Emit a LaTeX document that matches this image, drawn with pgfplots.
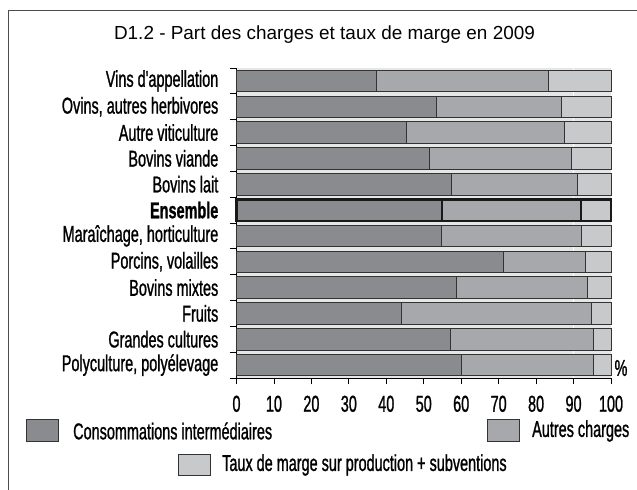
\documentclass[border=0pt]{standalone}
\usepackage{fontspec}
\setmainfont{Liberation Sans}
\newfontfamily\cond[FakeStretch=0.63, FakeBold=1]{Liberation Sans}
\usepackage{pgfplots}
\pgfplotsset{compat=1.18}
\definecolor{cdark}{HTML}{8A8B8F}
\definecolor{cmid}{HTML}{A7A8AB}
\definecolor{clight}{HTML}{C8C9CB}
\definecolor{cbg}{HTML}{E6E6E6}
\newcommand{\cf}{\cond\fontsize{23}{26}\selectfont}
\begin{document}
\begin{tikzpicture}
\path[use as bounding box] (0,0) rectangle (637bp,490bp);
\draw[black!70, line width=1.2bp] (8.5bp,0) -- (8.5bp,479.5bp) -- (637bp,479.5bp);
\node[font=\fontsize{19}{22}\selectfont] at (324.5bp,455bp) {D1.2 - Part des charges et taux de marge en 2009};
\begin{axis}[
  at={(236.5bp,112bp)}, anchor=south west,
  scale only axis, width=374.5bp, height=310bp,
  xbar, bar width=21.4bp,
  xmin=0, xmax=100, ymin=-0.5, ymax=11.5,
  axis x line*=bottom, axis y line*=left,
  axis line style={-, black, line width=0.8bp},
  axis background/.style={fill=cbg},
  tick align=outside, major tick length=6.5bp,
  tick style={black, line width=0.8bp},
  xtick={0,10,...,100},
  ytick={-0.5,0.5,1.5,2.5,3.5,4.5,5.5,6.5,7.5,8.5,9.5,10.5,11.5},
  yticklabels={},
  /pgf/number format/assume math mode=true,
  xticklabel style={font=\cf, inner sep=0pt, anchor=north, yshift=-11bp},
  extra y ticks={0,1,2,3,4,5,6,7,8,9,10,11},
  extra y tick labels={{Polyculture, polyélevage},{Grandes cultures},{Fruits},{Bovins mixtes},{Porcins, volailles},{Maraîchage, horticulture},{\bfseries Ensemble},{Bovins lait},{Bovins viande},{Autre viticulture},{Ovins, autres herbivores},{Vins d'appellation}},
  extra y tick style={major tick length=0pt, yticklabel style={font=\cf, inner sep=0pt, anchor=east, xshift=-18bp}},
  extra x ticks={90}, extra x tick labels={},
  extra x tick style={grid=major, major grid style={white, line width=1.5bp}, major tick length=0pt},
  clip=false,
]
\addplot[bar shift=0pt, fill=clight, draw=black!80, line width=0.8bp] coordinates {
(100,0) (100,1) (100,2) (100,3) (100,4) (100,5) (100,6) (100,7) (100,8) (100,9) (100,10) (100,11)};
\addplot[bar shift=0pt, fill=cmid, draw=black!80, line width=0.8bp] coordinates {
(95.4,0) (95.4,1) (94.7,2) (93.8,3) (93.2,4) (92.2,5) (92.0,6) (91.1,7) (89.5,8) (87.6,9) (86.7,10) (83.2,11)};
\addplot[bar shift=0pt, fill=cdark, draw=black!80, line width=0.8bp] coordinates {
(60.1,0) (57.0,1) (44.0,2) (58.6,3) (71.4,4) (54.7,5) (54.9,6) (57.4,7) (51.5,8) (45.4,9) (53.5,10) (37.4,11)};
\addplot[bar shift=0pt, fill=clight, draw=black!90, line width=2.4bp] coordinates {(100,6)};
\addplot[bar shift=0pt, fill=cmid, draw=black!90, line width=2.4bp] coordinates {(92.0,6)};
\addplot[bar shift=0pt, fill=cdark, draw=black!90, line width=2.4bp] coordinates {(54.9,6)};
\end{axis}
\node[font=\cf] at (621bp,122bp) {\%};
\draw[black!80, line width=0.8bp, fill=cdark] (26bp,49bp) rectangle (58bp,71bp);
\node[font=\cf, anchor=west, inner sep=0pt] at (73bp,59bp) {Consommations intermédiaires};
\draw[black!80, line width=0.8bp, fill=cmid] (487bp,49bp) rectangle (519bp,71bp);
\node[font=\cf, anchor=west, inner sep=0pt] at (532bp,59bp) {Autres charges};
\draw[black!80, line width=0.8bp, fill=clight] (178bp,15bp) rectangle (210bp,36bp);
\node[font=\cf, anchor=west, inner sep=0pt] at (222bp,25bp) {Taux de marge sur production + subventions};
\end{tikzpicture}
\end{document}
